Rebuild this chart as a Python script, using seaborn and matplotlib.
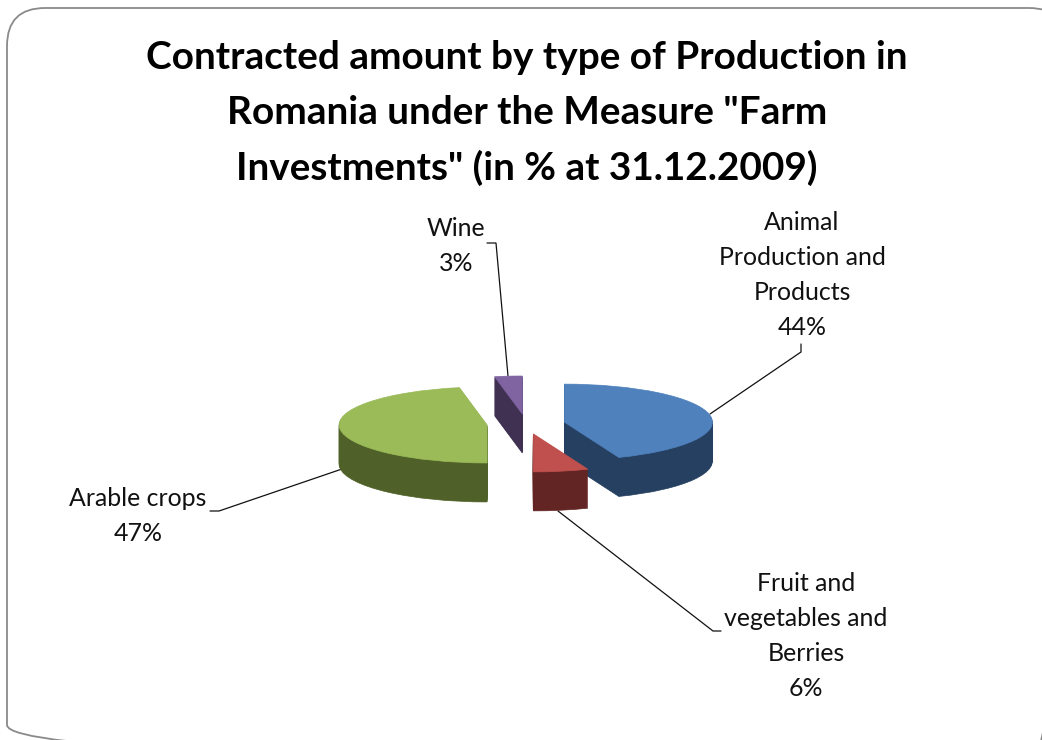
import matplotlib
matplotlib.use('Agg')
import matplotlib.pyplot as plt
import seaborn as sns
from matplotlib.patches import FancyBboxPatch

# ---- data ----
categories = ['Animal\nProduction and\nProducts', 'Fruit and\nvegetables and\nBerries', 'Arable crops', 'Wine']
shares = [44, 6, 47, 3]
top_colors = ['#4F81BD', '#C0504D', '#9BBB59', '#8064A2']
side_colors = ['#264061', '#632523', '#4F6128', '#403152']

TITLE = 'Contracted amount by type of Production in\nRomania under the Measure "Farm\nInvestments" (in % at 31.12.2009)'

W, H = 1042, 740
# pie geometry in pixels: ellipse radii, centre, wall height
RX, RY = 148, 38
CX, CY = 526, 424
DEPTH_LAYERS = 39
EXPLODE = 0.264

sns.set_theme(style='white')
plt.rcParams['font.family'] = ['Lato', 'DejaVu Sans']

fig = plt.figure(figsize=(W / 100, H / 100), dpi=100, facecolor='white')

# overlay in pixel coordinates for frame, leader lines and text
bg = fig.add_axes([0, 0, 1, 1])
bg.set_xlim(0, W)
bg.set_ylim(H, 0)
bg.axis('off')
bg.add_patch(FancyBboxPatch((7, 8), 1060, 755, boxstyle='round,pad=0,rounding_size=38',
                            fc='none', ec='#8a8a8a', lw=1.3))

# pie axes: one data unit is RX pixels wide and RY pixels high
ax = fig.add_axes([0, 0, 1, 1])
ax.patch.set_alpha(0)


def draw_layer(colors, drop):
    wedges, _ = ax.pie(shares, explode=[EXPLODE] * len(shares), startangle=90, counterclock=False,
                       colors=sns.color_palette(colors), center=(0, -drop / RY))
    for w in wedges:
        w.set_edgecolor(w.get_facecolor())
        w.set_linewidth(0.5)


for k in range(DEPTH_LAYERS, 0, -1):
    draw_layer(side_colors, k)
draw_layer(top_colors, 0)

ax.set_aspect('auto')
ax.set_xlim(-CX / RX, (W - CX) / RX)
ax.set_ylim((CY - H) / RY, CY / RY)
ax.axis('off')

# leader lines
leaders = [
    ([710, 801, 801], [414, 352, 344]),
    ([558, 713, 721], [511, 631, 631]),
    ([342, 219, 210], [469, 511, 511]),
    ([508, 496, 487], [376, 243, 243]),
]
for xs, ys in leaders:
    bg.plot(xs, ys, color='#111111', lw=0.9, solid_joinstyle='miter')

# labels
label_pos = [(802, 224), (806, 585), (138, 500), (456, 230)]
for name, share, (x, y) in zip(categories, shares, label_pos):
    bg.text(x, y - 13, f'{name}\n{share}%', ha='center', va='top', fontsize=17.9,
            linespacing=1.64, color='#111111', zorder=5)

fig.text(527 / W, 1 - 113 / H, TITLE, ha='center', va='center', fontsize=27.9, fontweight='bold',
         linespacing=1.68, color='black')

fig.savefig('out.png', dpi=100)
